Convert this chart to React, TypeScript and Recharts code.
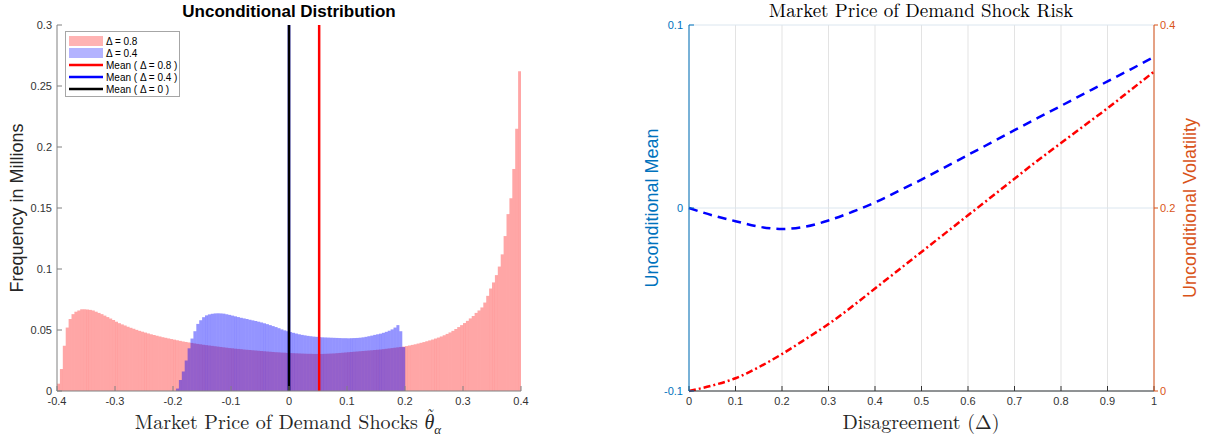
import React from 'react';
import {
  ComposedChart, Bar, Line, XAxis, YAxis, CartesianGrid, ReferenceLine,
} from 'recharts';

// histogram bins: width 0.005 starting at -0.4 (delta = 0.8) and -0.2 (delta = 0.4)
const binWidth = 0.005;
const pinkStart = -0.4;
const blueStart = -0.2;

const freqDelta08 = [
  0.006, 0.018, 0.037, 0.052, 0.059, 0.063, 0.065, 0.066, 0.067, 0.067,
  0.0668, 0.0665, 0.066, 0.065, 0.064, 0.063, 0.0618, 0.0606, 0.0594, 0.0582,
  0.0568, 0.0556, 0.0546, 0.0537, 0.0527, 0.0518, 0.051, 0.0501, 0.0493, 0.0486,
  0.0479, 0.0472, 0.0465, 0.0459, 0.0453, 0.0447, 0.0441, 0.0436, 0.0431, 0.0426,
  0.0421, 0.0416, 0.0411, 0.0406, 0.0402, 0.0398, 0.0394, 0.039, 0.0386, 0.0383,
  0.0379, 0.0376, 0.0373, 0.037, 0.0367, 0.0364, 0.0361, 0.0358, 0.0355, 0.0352,
  0.035, 0.0347, 0.0345, 0.0343, 0.034, 0.0338, 0.0336, 0.0334, 0.0332, 0.033,
  0.0328, 0.0326, 0.0324, 0.0322, 0.032, 0.0318, 0.0317, 0.0315, 0.0314, 0.0312,
  0.0311, 0.031, 0.0309, 0.0308, 0.0307, 0.0306, 0.0305, 0.0305, 0.0304, 0.0304,
  0.0304, 0.0304, 0.0305, 0.0306, 0.0307, 0.0308, 0.031, 0.0312, 0.0314, 0.0316,
  0.0318, 0.032, 0.0322, 0.0324, 0.0326, 0.0328, 0.033, 0.0332, 0.0334, 0.0336,
  0.0338, 0.034, 0.0343, 0.0346, 0.0349, 0.0352, 0.0355, 0.0358, 0.0361, 0.0364,
  0.0368, 0.0373, 0.0378, 0.0383, 0.0389, 0.0395, 0.0401, 0.0408, 0.0415, 0.0422,
  0.043, 0.0438, 0.0447, 0.0457, 0.0468, 0.048, 0.0493, 0.0508, 0.0524, 0.054,
  0.0557, 0.0575, 0.0595, 0.0615, 0.064, 0.066, 0.0685, 0.0725, 0.078, 0.084,
  0.089, 0.095, 0.102, 0.112, 0.127, 0.145, 0.158, 0.182, 0.215, 0.262,
];

const freqDelta04 = [
  0, 0.002, 0.009, 0.016, 0.025, 0.035, 0.043, 0.049, 0.055, 0.058,
  0.0605, 0.062, 0.0628, 0.0633, 0.0636, 0.0637, 0.0636, 0.0634, 0.0629, 0.0624,
  0.0618, 0.0612, 0.0606, 0.06, 0.0595, 0.059, 0.0584, 0.0579, 0.0574, 0.0568,
  0.0562, 0.0555, 0.0548, 0.054, 0.0532, 0.0524, 0.0515, 0.0505, 0.0497, 0.049,
  0.0483, 0.0477, 0.0471, 0.0465, 0.046, 0.0456, 0.0452, 0.0449, 0.0446, 0.0444,
  0.0442, 0.044, 0.0439, 0.0438, 0.0437, 0.0436, 0.0435, 0.0434, 0.0433, 0.0433,
  0.0432, 0.0433, 0.0434, 0.0435, 0.0437, 0.044, 0.0444, 0.0449, 0.0454, 0.046,
  0.0465, 0.047, 0.0477, 0.0485, 0.0494, 0.0505, 0.052, 0.054, 0.049, 0.036,
];

const meanDelta08 = 0.052;
const meanDelta04 = 0.0;
const meanDelta0 = 0.0;

const histTicksX = [-0.4, -0.3, -0.2, -0.1, 0, 0.1, 0.2, 0.3, 0.4];
const histTicksY = [0, 0.05, 0.1, 0.15, 0.2, 0.25, 0.3];

// right panel
const disagreement = [0, 0.05, 0.1, 0.15, 0.2, 0.25, 0.3, 0.35, 0.4, 0.45, 0.5,
  0.55, 0.6, 0.65, 0.7, 0.75, 0.8, 0.85, 0.9, 0.95, 1];
const uncondMean = [0, -0.004, -0.0072, -0.0102, -0.0115, -0.0102, -0.0068, -0.0022,
  0.003, 0.0092, 0.0155, 0.0222, 0.029, 0.0357, 0.0425, 0.0492, 0.0558, 0.0625,
  0.0692, 0.0758, 0.0825];
const uncondVol = [0, 0.006, 0.0139, 0.026, 0.0404, 0.0565, 0.0732, 0.092, 0.112,
  0.132, 0.152, 0.172, 0.192, 0.212, 0.232, 0.252, 0.271, 0.29, 0.309, 0.329, 0.349];

const riskTicksX = [0, 0.1, 0.2, 0.3, 0.4, 0.5, 0.6, 0.7, 0.8, 0.9, 1];
const meanTicks = [-0.1, 0, 0.1];
const volTicks = [0, 0.2, 0.4];

const histData = freqDelta08.map((f, i) => {
  const x = +(pinkStart + (i + 0.5) * binWidth).toFixed(4);
  const j = Math.round((x - blueStart - binWidth / 2) / binWidth);
  return { x, d08: f, d04: j >= 0 && j < freqDelta04.length ? freqDelta04[j] : null };
});

const riskData = disagreement.map((d, i) => ({ d, mean: uncondMean[i], vol: uncondVol[i] }));

const sans = '"Liberation Sans", Arial, Helvetica, sans-serif';
const serif = '"Latin Modern Roman", "Liberation Serif", "Times New Roman", serif';
const tickStyle = { fontFamily: sans, fontSize: 11, fill: '#333' };
const BLUE_AX = '#0072BD';
const ORANGE_AX = '#D95319';

const Swatch = ({ kind, color }: { kind: 'patch' | 'line'; color: string }) => (
  <svg width={34} height={10} style={{ display: 'block' }}>
    {kind === 'patch'
      ? <rect x={0} y={0} width={34} height={10} fill={color} />
      : <line x1={0} x2={34} y1={5} y2={5} stroke={color} strokeWidth={2.5} />}
  </svg>
);

const legendItems: Array<{ kind: 'patch' | 'line'; color: string; label: string }> = [
  { kind: 'patch', color: '#ffb3b3', label: 'Δ = 0.8' },
  { kind: 'patch', color: '#b3b3ff', label: 'Δ = 0.4' },
  { kind: 'line', color: '#ff0000', label: 'Mean ( Δ = 0.8 )' },
  { kind: 'line', color: '#0000ff', label: 'Mean ( Δ = 0.4 )' },
  { kind: 'line', color: '#000000', label: 'Mean ( Δ = 0 )' },
];

const vLabel = (text: string, cx: number, cy: number, color: string, size = 18) => (
  <div style={{
    position: 'absolute', left: cx, top: cy, transform: 'translate(-50%, -50%) rotate(-90deg)',
    whiteSpace: 'nowrap', fontFamily: sans, fontSize: size, color, lineHeight: 1,
  }}>{text}</div>
);

export default function App() {
  return (
    <div style={{ position: 'fixed', left: 0, top: 0, width: 1213, height: 438, background: '#fff', overflow: 'hidden' }}>
      {/* left: histogram */}
      <div style={{ position: 'absolute', left: 0, top: 0 }}>
        <ComposedChart width={540} height={438} data={histData}
          margin={{ top: 25, right: 19, bottom: 17, left: 17 }}
          barGap="-100%" barCategoryGap={0}>
          <XAxis xAxisId="b" dataKey="x" type="number" domain={[-0.4, 0.4]} ticks={histTicksX}
            allowDataOverflow height={30} tickSize={-5} tickMargin={11} stroke="#808080"
            tick={tickStyle} interval={0} />
          <XAxis xAxisId="t" orientation="top" dataKey="x" type="number" domain={[-0.4, 0.4]}
            ticks={histTicksX} allowDataOverflow height={0} tickSize={-5} tick={false} stroke="#808080" />
          <YAxis yAxisId="l" type="number" domain={[0, 0.3]} ticks={histTicksY} width={40}
            tickSize={-5} tickMargin={10} stroke="#808080" tick={tickStyle} interval={0} />
          <YAxis yAxisId="r" orientation="right" type="number" domain={[0, 0.3]} ticks={histTicksY}
            width={0} tickSize={-5} tick={false} stroke="#808080" />
          <Bar xAxisId="b" yAxisId="l" dataKey="d08" fill="#ff0000" fillOpacity={0.35} isAnimationActive={false} />
          <Bar xAxisId="b" yAxisId="l" dataKey="d04" fill="#0000ff" fillOpacity={0.42} isAnimationActive={false} />
          <ReferenceLine xAxisId="b" yAxisId="l" x={meanDelta08} stroke="#ff0000" strokeWidth={2.5} />
          <ReferenceLine xAxisId="b" yAxisId="l" x={meanDelta04} stroke="#0000ff" strokeWidth={2.5} />
          <ReferenceLine xAxisId="b" yAxisId="l" x={meanDelta0} stroke="#000000" strokeWidth={2.5} />
        </ComposedChart>
      </div>
      <div style={{
        position: 'absolute', left: 289, top: 2, transform: 'translateX(-50%)', whiteSpace: 'nowrap',
        fontFamily: sans, fontWeight: 'bold', fontSize: 17, color: '#000', lineHeight: '20px',
      }}>Unconditional Distribution</div>
      {vLabel('Frequency in Millions', 17, 208, '#262626')}
      <div style={{
        position: 'absolute', left: 288, top: 411, transform: 'translateX(-50%)', whiteSpace: 'nowrap',
        fontFamily: serif, fontSize: 20, color: '#262626', lineHeight: '20px',
      }}>
        Market Price of Demand Shocks{' '}
        <i style={{ display: 'inline-block', position: 'relative' }}>θ<span style={{ position: 'absolute', left: 2, top: -7, fontSize: 17, fontStyle: 'normal' }}>˜</span></i>
        <sub style={{ fontSize: 13, lineHeight: 0 }}><i>α</i></sub>
      </div>
      <div style={{
        position: 'absolute', left: 65, top: 31, width: 115, height: 66, border: '1px solid #a6a6a6',
        background: '#fff', boxSizing: 'border-box', padding: '3px 0 0 3px',
      }}>
        {legendItems.map((it) => (
          <div key={it.label} style={{ display: 'flex', alignItems: 'center', height: 12 }}>
            <Swatch kind={it.kind} color={it.color} />
            <span style={{ marginLeft: 3, fontFamily: sans, fontSize: 10, color: '#000', whiteSpace: 'nowrap' }}>{it.label}</span>
          </div>
        ))}
      </div>

      {/* right: market price of demand shock risk */}
      <div style={{ position: 'absolute', left: 600, top: 0 }}>
        <ComposedChart width={613} height={438} data={riskData}
          margin={{ top: 25, right: 29, bottom: 17, left: 49 }}>
          <CartesianGrid xAxisId="b" yAxisId="m" vertical horizontal={false} stroke="#e3e3e3" />
          <CartesianGrid xAxisId="b" yAxisId="m" vertical={false} horizontal stroke="#dbe6ef" />
          <XAxis xAxisId="b" dataKey="d" type="number" domain={[0, 1]} ticks={riskTicksX} height={30}
            tickSize={-5} tickMargin={11} stroke="#333" tick={tickStyle} interval={0} />
          <XAxis xAxisId="t" orientation="top" dataKey="d" type="number" domain={[0, 1]} ticks={riskTicksX}
            height={0} tickSize={-5} tick={false} stroke="#333" />
          <YAxis yAxisId="m" type="number" domain={[-0.1, 0.1]} ticks={meanTicks} width={40}
            tickSize={-5} tickMargin={11} stroke={BLUE_AX}
            tick={{ ...tickStyle, fill: BLUE_AX }} interval={0} />
          <YAxis yAxisId="v" orientation="right" type="number" domain={[0, 0.4]} ticks={volTicks} width={30}
            tickSize={4} tickMargin={2} stroke={ORANGE_AX}
            tick={{ ...tickStyle, fill: ORANGE_AX }} interval={0} />
          <Line xAxisId="b" yAxisId="m" type="monotone" dataKey="mean" stroke="#0000ff" strokeWidth={2.5}
            strokeDasharray="9 6" dot={false} isAnimationActive={false} />
          <Line xAxisId="b" yAxisId="v" type="monotone" dataKey="vol" stroke="#ff0000" strokeWidth={2.5}
            strokeDasharray="7 3 2 3" dot={false} isAnimationActive={false} />
        </ComposedChart>
      </div>
      <div style={{
        position: 'absolute', left: 921, top: 0, transform: 'translateX(-50%)', whiteSpace: 'nowrap',
        fontFamily: serif, fontSize: 19, color: '#000', lineHeight: '20px',
      }}>Market Price of Demand Shock Risk</div>
      {vLabel('Unconditional Mean', 652, 208, BLUE_AX)}
      {vLabel('Unconditional Volatility', 1190, 208, ORANGE_AX)}
      <div style={{
        position: 'absolute', left: 921, top: 411, transform: 'translateX(-50%)', whiteSpace: 'nowrap',
        fontFamily: serif, fontSize: 20, color: '#262626', lineHeight: '20px',
      }}>Disagreement (Δ)</div>
    </div>
  );
}
